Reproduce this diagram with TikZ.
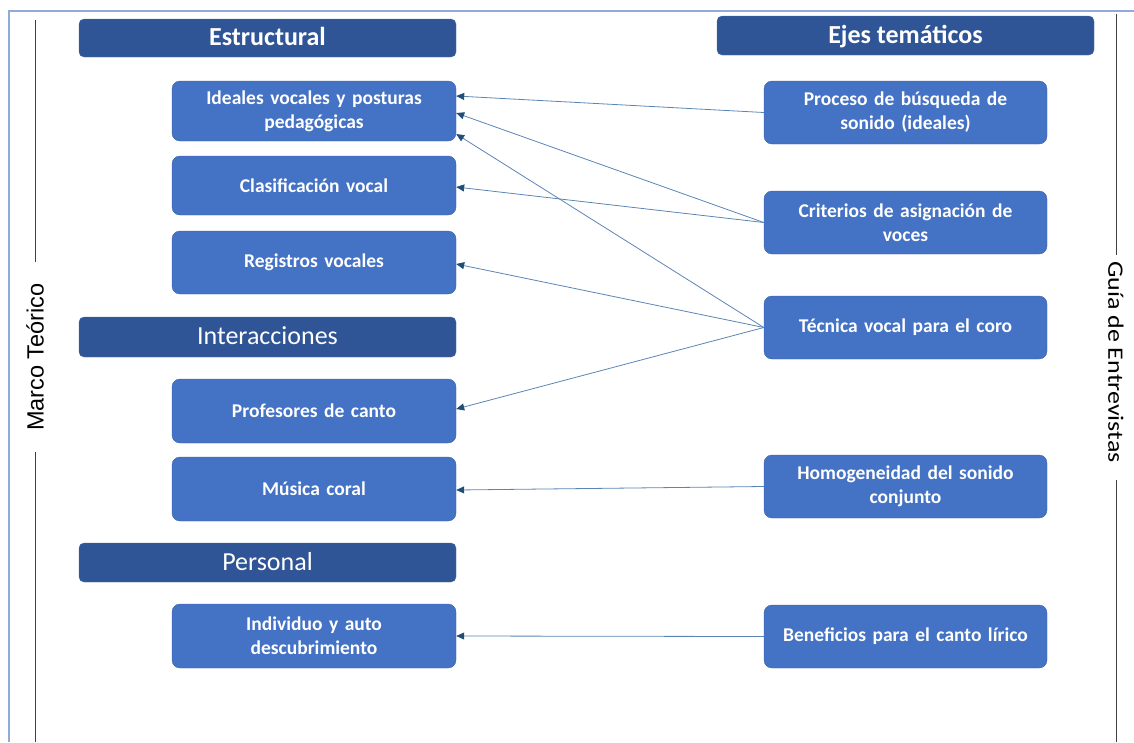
\documentclass[tikz,border=0pt]{standalone}
\usepackage{fontspec}
\setmainfont{Carlito}
\newfontfamily\arialf{Liberation Sans}
\newfontfamily\guiaf[FakeStretch=1.18]{Carlito}
\usetikzlibrary{arrows.meta}
\definecolor{hdrblue}{HTML}{2F5597}
\definecolor{boxblue}{HTML}{4472C4}
\definecolor{boxedge}{HTML}{3A62A8}
\definecolor{lineblue}{HTML}{5B85B5}
\definecolor{tipblue}{HTML}{1F4E79}
\definecolor{framecol}{HTML}{8FAADC}
\tikzset{
  hdr/.style={fill=hdrblue, draw=hdrblue!85!white, rounded corners=5pt, text=white,
    minimum width=377pt, inner sep=0pt, text height=17pt, text depth=2pt,
    font=\fontsize{26}{30}\selectfont},
  topicbox/.style={fill=boxblue, draw=boxedge, rounded corners=8pt, text=white,
    minimum width=284pt, text width=276pt, align=center, inner sep=0pt,
    font=\bfseries\fontsize{19.5}{24}\selectfont},
  conn/.style={draw=lineblue, line width=0.8pt, -{Triangle[length=8pt,width=7pt,fill=tipblue,color=tipblue]}},
  sideline/.style={draw=black!75, line width=0.8pt}
}
\begin{document}
\begin{tikzpicture}[x=1pt,y=-1pt]
\useasboundingbox (0,0) rectangle (1134,742);
% frame
\draw[framecol, line width=1.5pt] (9,742) -- (9,11) -- (1134,11);
% side labels
\node[rotate=90, font=\arialf\fontsize{23.5}{27}\selectfont, inner sep=0pt] (marco) at (35,357) {Marco Teórico};
\node[rotate=-90, font=\guiaf\fontsize{22}{26}\selectfont, inner sep=0pt] (guia) at (1116,362) {Guía de Entrevistas};
\coordinate (lt1) at (35,20); \coordinate (lt2) at (35,262);
\coordinate (lb1) at (35,452); \coordinate (lb2) at (35,742);
\coordinate (rt1) at (1116,14); \coordinate (rt2) at (1116,255);
\coordinate (rb1) at (1116,480); \coordinate (rb2) at (1116,742);
\draw[sideline] (lt1) -- (lt2);
\draw[sideline] (lb1) -- (lb2);
\draw[sideline] (rt1) -- (rt2);
\draw[sideline] (rb1) -- (rb2);
% headers
\node[hdr, minimum height=38pt, font=\bfseries\fontsize{26}{30}\selectfont] (estr) at (267.5,38) {Estructural};
\node[hdr, minimum height=39pt, font=\bfseries\fontsize{26}{30}\selectfont] (ejes) at (905.5,35.5) {Ejes temáticos};
\node[hdr, minimum height=40pt] (inter) at (267.5,337) {Interacciones};
\node[hdr, minimum height=39pt] (pers) at (267.5,562.5) {Personal};
% left boxes
\node[topicbox, minimum height=60pt] (ideal) at (314,111) {Ideales vocales y posturas\\pedagógicas};
\node[topicbox, minimum height=59pt] (clas) at (314,185.5) {Clasificación vocal};
\node[topicbox, minimum height=63pt] (regi) at (314,262.5) {Registros vocales};
\node[topicbox, minimum height=64pt] (prof) at (314,411) {Profesores de canto};
\node[topicbox, minimum height=64pt] (musi) at (314,489) {Música coral};
\node[topicbox, minimum height=64pt] (indi) at (314,636) {Individuo y auto\\descubrimiento};
% right boxes
\node[topicbox, minimum height=63pt, minimum width=283pt] (proc) at (905.5,112.5) {Proceso de búsqueda de\\sonido (ideales)};
\node[topicbox, minimum height=63pt, minimum width=283pt] (crit) at (905.5,222.5) {Criterios de asignación de\\voces};
\node[topicbox, minimum height=63pt, minimum width=283pt] (tecn) at (905.5,327.5) {Técnica vocal para el coro};
\node[topicbox, minimum height=63pt, minimum width=283pt] (homo) at (905.5,486.5) {Homogeneidad del sonido\\conjunto};
\node[topicbox, minimum height=63pt, minimum width=283pt] (bene) at (905.5,636.5) {Beneficios para el canto lírico};
% connectors
\draw[conn] (proc.west) -- ([yshift=15pt]ideal.east);
\draw[conn] (crit.west) -- ([yshift=-2pt]ideal.east);
\draw[conn] (crit.west) -- ([yshift=-1.5pt]clas.east);
\draw[conn] (tecn.west) -- ([yshift=-23pt]ideal.east);
\draw[conn] (tecn.west) -- ([yshift=-1.5pt]regi.east);
\draw[conn] (tecn.west) -- ([yshift=2pt]prof.east);
\draw[conn] (homo.west) -- ([yshift=-1pt]musi.east);
\draw[conn] (bene.west) -- (indi.east);
\end{tikzpicture}
\end{document}
